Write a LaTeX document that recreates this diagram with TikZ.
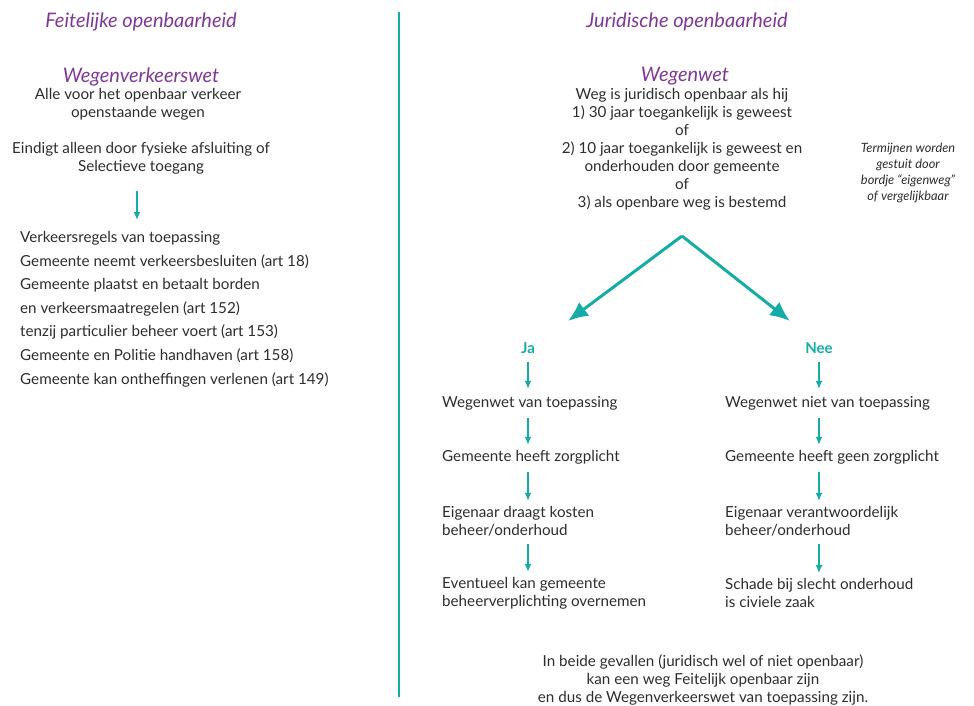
\documentclass[tikz,border=0pt]{standalone}
\usepackage{fontspec}
\setmainfont{Lato}
\usetikzlibrary{positioning,arrows.meta}

\definecolor{teal}{RGB}{22,172,166}
\definecolor{paars}{RGB}{128,56,150}
\definecolor{tekst}{RGB}{45,45,45}

\begin{document}
\begin{tikzpicture}[
  x=1pt,y=-1pt,
  txt/.style={inner sep=0pt,text=tekst,font=\fontsize{15.2}{18}\selectfont},
  kop/.style={inner sep=0pt,text=paars,font=\fontsize{20}{22}\selectfont\itshape},
  keuze/.style={inner sep=0pt,text=teal,font=\fontsize{15}{17}\selectfont\bfseries},
  arr/.style={draw=teal,line width=1.5pt,-{Latex[length=8pt,width=7pt]}},
  bigarr/.style={draw=teal,line width=3pt,-{Latex[length=20pt,width=17pt]}}
]
\useasboundingbox (0,0) rectangle (974,706);

% scheidingslijn
\draw[teal,line width=1.5pt] (399,12) -- (399,697);

% linkerhelft
\node[kop] (titelL) at (141,21.5) {Feitelijke openbaarheid};
\node[kop] (wvw) at (141,76.5) {Wegenverkeerswet};
\node[txt,align=center] (alle) at (138,104) {Alle voor het openbaar verkeer\\openstaande wegen};
\node[txt,align=center] (eindigt) at (141,158) {Eindigt alleen door fysieke afsluiting of\\Selectieve toegang};
\node[txt,align=left,anchor=west,font=\fontsize{15.2}{23.6}\selectfont] (lijst) at (20,309)
  {Verkeersregels van toepassing\\
   Gemeente neemt verkeersbesluiten (art 18)\\
   Gemeente plaatst en betaalt borden\\
   en verkeersmaatregelen (art 152)\\
   tenzij particulier beheer voert (art 153)\\
   Gemeente en Politie handhaven (art 158)\\
   Gemeente kan ontheffingen verlenen (art 149)};
\draw[arr,shorten <=17pt,shorten >=11pt] ([xshift=-4pt]eindigt.south) -- ([xshift=-4pt]eindigt.south |- lijst.north);

% rechterhelft
\node[kop] (titelR) at (687,21.5) {Juridische openbaarheid};
\node[kop] (ww) at (685,76.5) {Wegenwet};
\node[txt,align=center] (crit) at (682,149.5)
  {Weg is juridisch openbaar als hij\\
   1) 30 jaar toegankelijk is geweest\\
   of\\
   2) 10 jaar toegankelijk is geweest en\\
   onderhouden door gemeente\\
   of\\
   3) als openbare weg is bestemd};
\node[txt,align=center,font=\fontsize{12.8}{16}\selectfont\itshape] (noot) at (908,173)
  {Termijnen worden\\gestuit door\\bordje ``eigenweg''\\of vergelijkbaar};

\coordinate (top) at (682,236);
\coordinate (linksend) at (568,321);
\coordinate (rechtsend) at (790,321);
\draw[bigarr] (top) -- (linksend);
\draw[bigarr] (top) -- (rechtsend);

\node[keuze] (ja) at (528,348) {Ja};
\node[keuze] (nee) at (819,348) {Nee};

% tak ja
\node[txt,anchor=west] (ja1) at (442,403) {Wegenwet van toepassing};
\node[txt,anchor=west] (ja2) at (442,457) {Gemeente heeft zorgplicht};
\node[txt,anchor=west,align=left] (ja3) at (442,521) {Eigenaar draagt kosten\\beheer/onderhoud};
\node[txt,anchor=west,align=left] (ja4) at (442,593) {Eventueel kan gemeente\\beheerverplichting overnemen};

% tak nee
\node[txt,anchor=west] (nee1) at (725,403) {Wegenwet niet van toepassing};
\node[txt,anchor=west] (nee2) at (725,457) {Gemeente heeft geen zorgplicht};
\node[txt,anchor=west,align=left] (nee3) at (725,521) {Eigenaar verantwoordelijk\\beheer/onderhoud};
\node[txt,anchor=west,align=left] (nee4) at (725,593) {Schade bij slecht onderhoud\\is civiele zaak};

\foreach \k in {ja,nee}{
  \draw[arr,shorten <=8pt,shorten >=7pt] (\k.south) -- (\k.south |- \k1.north);
  \draw[arr,shorten <=8pt,shorten >=5pt] (\k.south |- \k1.south) -- (\k.south |- \k2.north);
  \draw[arr,shorten <=8pt,shorten >=5pt] (\k.south |- \k2.south) -- (\k.south |- \k3.north);
  \draw[arr,shorten <=8pt,shorten >=5pt] (\k.south |- \k3.south) -- (\k.south |- \k4.north);
}

\node[txt,align=center] (beide) at (703,680)
  {In beide gevallen (juridisch wel of niet openbaar)\\
   kan een weg Feitelijk openbaar zijn\\
   en dus de Wegenverkeerswet van toepassing zijn.};
\end{tikzpicture}
\end{document}
